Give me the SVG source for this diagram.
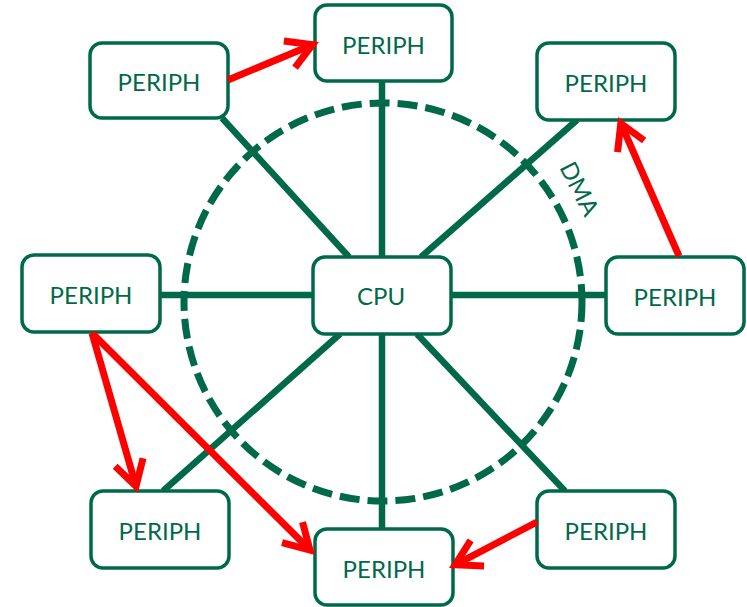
<svg xmlns="http://www.w3.org/2000/svg" width="747" height="607" viewBox="0 0 747 607">
  <defs>
    <style>
      .box { fill: #ffffff; stroke: #00694A; stroke-width: 3.5; }
      .lbl { font-family: Lato, "Open Sans", "Liberation Sans", sans-serif; font-size: 24px; fill: #00694A; text-anchor: middle; }
      .spoke { stroke: #00694A; stroke-width: 6.5; fill: none; }
      .dma { stroke: #00694A; stroke-width: 7; fill: none; stroke-dasharray: 20 8; }
      .xfer { stroke: #FF0000; stroke-width: 7; fill: none; marker-end: url(#arrow); }
    </style>
    <marker id="arrow" markerUnits="userSpaceOnUse" markerWidth="40" markerHeight="40" refX="0" refY="0" orient="auto" overflow="visible" viewBox="-30 -20 40 40">
      <path d="M-25,-14.5 L0,0 L-25,14.5" fill="none" stroke="#FF0000" stroke-width="7" stroke-linejoin="miter"/>
    </marker>
  </defs>
  <rect width="747" height="607" fill="#ffffff"/>

  <g id="dma">
    <circle class="dma" cx="383" cy="302" r="199"/>
    <text class="lbl" transform="translate(579,189) rotate(63)" y="8">DMA</text>
  </g>

  <g id="bus-connectors">
    <line class="spoke" x1="382" y1="81" x2="382" y2="257"/>
    <line class="spoke" x1="382" y1="334" x2="382" y2="529"/>
    <line class="spoke" x1="160" y1="295" x2="313" y2="295"/>
    <line class="spoke" x1="451" y1="295" x2="606" y2="295"/>
    <line class="spoke" x1="222" y1="118" x2="349" y2="257"/>
    <line class="spoke" x1="577" y1="120" x2="421" y2="257"/>
    <line class="spoke" x1="340" y1="334" x2="163" y2="491"/>
    <line class="spoke" x1="417" y1="334" x2="565" y2="491"/>
  </g>

  <g id="cpu">
    <rect class="box" x="313" y="257" width="138" height="77" rx="12"/>
    <text class="lbl" x="381" y="305">CPU</text>
  </g>
  <g id="periph-top">
    <rect class="box" x="315" y="5" width="137" height="76" rx="12"/>
    <text class="lbl" x="383.5" y="53.5">PERIPH</text>
  </g>
  <g id="periph-top-left">
    <rect class="box" x="90" y="43" width="138" height="75" rx="12"/>
    <text class="lbl" x="159" y="91">PERIPH</text>
  </g>
  <g id="periph-top-right">
    <rect class="box" x="537" y="43" width="138" height="77" rx="12"/>
    <text class="lbl" x="606" y="92">PERIPH</text>
  </g>
  <g id="periph-left">
    <rect class="box" x="22" y="255" width="138" height="77" rx="12"/>
    <text class="lbl" x="91" y="304">PERIPH</text>
  </g>
  <g id="periph-right">
    <rect class="box" x="606" y="257" width="138" height="77" rx="12"/>
    <text class="lbl" x="675" y="306">PERIPH</text>
  </g>
  <g id="periph-bottom-left">
    <rect class="box" x="91" y="491" width="138" height="77" rx="12"/>
    <text class="lbl" x="160" y="540">PERIPH</text>
  </g>
  <g id="periph-bottom">
    <rect class="box" x="315" y="529" width="138" height="76" rx="12"/>
    <text class="lbl" x="384" y="577.5">PERIPH</text>
  </g>
  <g id="periph-bottom-right">
    <rect class="box" x="537" y="491" width="138" height="77" rx="12"/>
    <text class="lbl" x="606" y="540">PERIPH</text>
  </g>

  <g id="dma-transfers">
    <line class="xfer" x1="228" y1="80" x2="312.5" y2="44.7"/>
    <line class="xfer" x1="679" y1="256" x2="620.8" y2="123.4"/>
    <line class="xfer" x1="92" y1="333" x2="136" y2="486.3"/>
    <line class="xfer" x1="92" y1="333" x2="310" y2="550.1"/>
    <line class="xfer" x1="537" y1="522" x2="455.2" y2="564.8"/>
  </g>
</svg>
